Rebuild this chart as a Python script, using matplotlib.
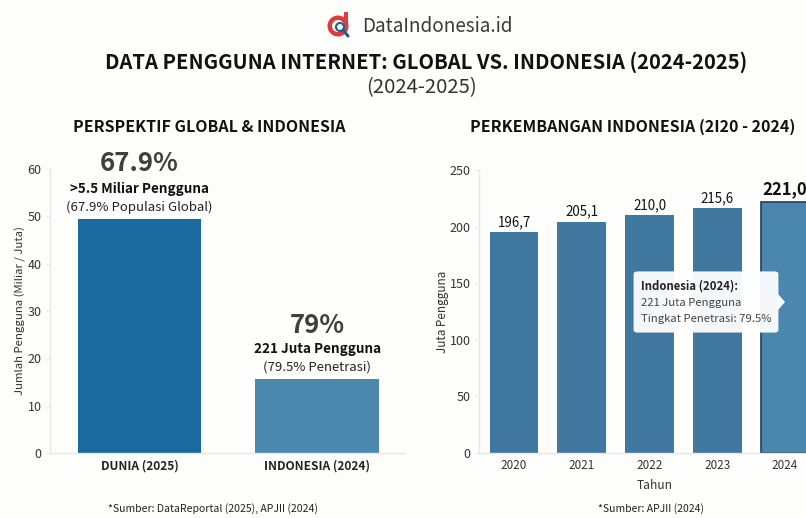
import matplotlib
matplotlib.use("Agg")
import matplotlib.pyplot as plt
from matplotlib.patches import FancyBboxPatch, Polygon, Wedge, Circle, Rectangle
from matplotlib.lines import Line2D

W, H = 806, 518
BG = "#fdfdfb"
plt.rcParams["font.family"] = ["Noto Sans CJK SC", "DejaVu Sans"]

# data
global_categories = ["DUNIA (2025)", "INDONESIA (2024)"]
global_values = [49.4, 15.6]
global_big = ["67.9%", "79%"]
global_bold = [">5.5 Miliar Pengguna", "221 Juta Pengguna"]
global_note = ["(67.9% Populasi Global)", "(79.5% Penetrasi)"]
global_colors = ["#1a6a9f", "#4c87ae"]

years = [2020, 2021, 2022, 2023, 2024]
users = [195.2, 204.5, 210.0, 216.5, 222.0]
user_labels = ["196,7", "205,1", "210,0", "215,6", "221,0"]
year_colors = ["#41789f", "#41789f", "#41789f", "#41789f", "#4a86ae"]
left_ticks = [0, 10, 20, 30, 40, 50, 60]
right_ticks = [0, 50, 100, 150, 200, 250]


def fx(px):
    return px / W


def fy(py):
    return 1 - py / H


fig = plt.figure(figsize=(W / 100, H / 100), dpi=100, facecolor=BG)


def make_axes(x0, x1, ytop, ybot):
    ax = fig.add_axes([fx(x0), fy(ybot), (x1 - x0) / W, (ybot - ytop) / H])
    ax.set_facecolor("none")
    for s in ("top", "right"):
        ax.spines[s].set_visible(False)
    for s in ("left", "bottom"):
        ax.spines[s].set_color("#e6e8ea")
        ax.spines[s].set_linewidth(1)
    ax.tick_params(axis="y", length=3, color="#e6e8ea", labelsize=9, labelcolor="#333333", pad=3)
    ax.tick_params(axis="x", length=0, labelsize=8.4, labelcolor="#333333", pad=4.5)
    return ax


# left chart
ax1 = make_axes(50, 405, 169, 453)
ax1.set_ylim(0, 60)
ax1.set_xlim(-0.505, 1.495)
ax1.set_yticks(left_ticks)
ax1.bar([0, 1], global_values, width=0.695, color=global_colors, linewidth=0)
ax1.set_xticks([0, 1])
ax1.set_xticklabels(global_categories, fontweight="bold", fontsize=8.6, color="#222222")
ax1.set_ylabel("Jumlah Pengguna (Miliar / Juta)", fontsize=8.2, color="#333333", labelpad=1.5)
for i, v in enumerate(global_values):
    ax1.annotate(global_big[i], (i, v), xytext=(0, 56 if i == 0 else 54), textcoords="offset pixels", ha="center",
                 va="center", fontsize=18.5, fontweight="bold", color="#3f3f3f", annotation_clip=False)
    ax1.annotate(global_bold[i], (i, v), xytext=(0, 30), textcoords="offset pixels", ha="center",
                 va="center", fontsize=9.7, fontweight="bold", color="#111111", annotation_clip=False)
    ax1.annotate(global_note[i], (i, v), xytext=(0, 12), textcoords="offset pixels", ha="center",
                 va="center", fontsize=9.5, color="#222222", annotation_clip=False)

# right chart (runs off the figure's right edge, as in the reference)
ax2 = make_axes(479, 830, 170, 453)
ax2.set_ylim(0, 250)
ax2.set_xlim(2020 - 35 / 67.75, 2020 + (830 - 514) / 67.75)
ax2.set_yticks(right_ticks)
bars = ax2.bar(years, users, width=0.72, color=year_colors, linewidth=0)
bars[-1].set_edgecolor("#1f3f5c")
bars[-1].set_linewidth(1.2)
ax2.set_xticks(years)
ax2.set_xticklabels([str(y) for y in years], fontsize=8.4)
ax2.set_xlabel("Tahun", fontsize=8.6, color="#333333", labelpad=5)
ax2.set_ylabel("Juta Pengguna", fontsize=8.4, color="#333333", labelpad=0.5)
for i, (y, v) in enumerate(zip(years, users)):
    last = i == len(years) - 1
    ax2.annotate(user_labels[i], (y, v), xytext=(0, 10 if not last else 12), textcoords="offset pixels",
                 ha="center", va="center", fontsize=12 if last else 9.6,
                 fontweight="bold" if last else "normal", color="#111111", annotation_clip=False)

# tooltip
tooltip = FancyBboxPatch((fx(636), fy(331)), 140 / W, 58 / H,
                         boxstyle="round,pad=0.003,rounding_size=0.005", transform=fig.transFigure,
                         facecolor="#ffffff", edgecolor="none", alpha=0.95, zorder=5)
fig.add_artist(tooltip)
fig.add_artist(Polygon([(fx(778), fy(294)), (fx(785), fy(302)), (fx(778), fy(310))],
                       transform=fig.transFigure, facecolor="#ffffff", edgecolor="none", alpha=0.95, zorder=5))
fig.text(fx(641), fy(286), "Indonesia (2024):", fontsize=8.2, fontweight="bold", color="#222222", va="center", zorder=6)
fig.text(fx(641), fy(303), "221 Juta Pengguna", fontsize=8.1, color="#444444", va="center", zorder=6)
fig.text(fx(641), fy(319), "Tingkat Penetrasi: 79.5%", fontsize=8.1, color="#444444", va="center", zorder=6)

# headings
fig.text(fx(426.5), fy(62), "DATA PENGGUNA INTERNET: GLOBAL VS. INDONESIA (2024-2025)", ha="center", va="center",
         fontsize=14.5, fontweight="bold", color="#111111")
fig.text(fx(422), fy(88), "(2024-2025)", ha="center", va="center", fontsize=14.6, color="#333333")
fig.text(fx(209.5), fy(127), "PERSPEKTIF GLOBAL & INDONESIA", ha="center", va="center", fontsize=11.5, fontweight="bold", color="#111111")
fig.text(fx(632.5), fy(127), "PERKEMBANGAN INDONESIA (2I20 - 2024)", ha="center", va="center", fontsize=11.5, fontweight="bold", color="#111111")
fig.text(fx(213), fy(509), "*Sumber: DataReportal (2025), APJII (2024)", ha="center", va="center", fontsize=7.55, color="#222222")
fig.text(fx(651), fy(509), "*Sumber: APJII (2024)", ha="center", va="center", fontsize=7.5, color="#222222")

# brand
fig.text(fx(362), fy(26), "DataIndonesia.id", ha="left", va="center", fontsize=13.6, color="#3a3a3a")
logo = fig.add_axes([fx(326), fy(39), 26 / W, 28 / H])
logo.set_xlim(326, 352)
logo.set_ylim(39, 11)
logo.axis("off")
logo.set_aspect("equal")
logo.add_patch(Wedge((338, 26), 10.5, 0, 360, width=4.5, facecolor="#df3b3f", edgecolor="none"))
logo.add_patch(Rectangle((344, 12), 4, 18, facecolor="#df3b3f", edgecolor="none"))
logo.add_patch(Circle((340, 27), 4, facecolor="white", edgecolor="#1f5f8f", linewidth=1.5))
logo.add_line(Line2D([343, 348], [30, 36], color="#1f5f8f", linewidth=2.2, solid_capstyle="round"))

fig.savefig("out.png", dpi=100, facecolor=BG)
